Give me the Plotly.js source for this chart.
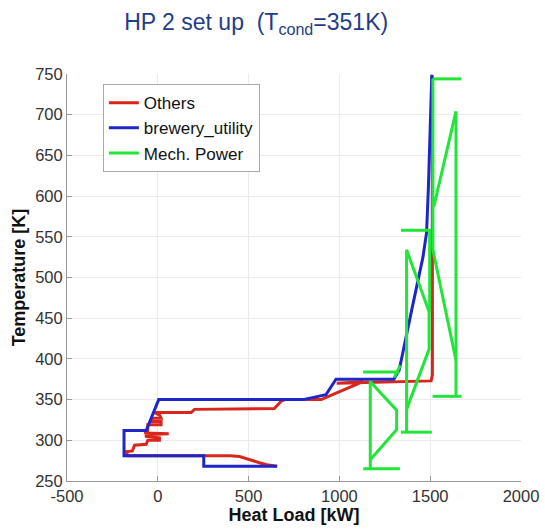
<!DOCTYPE html>
<html>
<head>
<meta charset="utf-8">
<script src="https://cdn.plot.ly/plotly-3.0.1.min.js"></script>
<style>html,body{margin:0;padding:0;background:#fff;}#chart{width:545px;height:529px;}</style>
</head>
<body>
<div id="chart"></div>
<script>
// Others (red) composite curve
const othersLoad = [657, 600, 559, 500, 450, 400, 358, -165, -175, -140, -128, -64, -55, 9, 9, -70, -40, 60, -73, -55, -55, 18, 18, -37, -30, 18, 10, -18, 184, 202, 642, 679, 700, 900, 940, 1130, 985, 1505, 1512, 1512];
const othersTemp = [268, 270, 272.5, 277, 280, 281, 281, 281, 286, 287, 294, 295, 300, 300, 303, 305, 307, 308, 309, 312, 319, 319, 323, 323, 327, 327, 331, 334, 334, 338, 339, 348, 350, 350, 354, 372, 370, 373, 380, 748];

// brewery_utility (blue) composite curve
const breweryLoad = [657, 253, 253, -186, -186, -64, 5, 800, 926, 981, 1300, 1329, 1400, 1460, 1480, 1490, 1509];
const breweryTemp = [268, 268, 281, 281, 312, 312, 350, 350, 356, 375, 375, 386, 462, 525, 555, 610, 749];

// Mech. Power (green) segments, null separates pieces
const mechLoad = [1131, 1333, null, 1170, 1170, null, 1170, 1315, 1315, 1170, null, 1131, 1330, null, 1302, 1335, null,
                  1339, 1509, null, 1370, 1370, null, 1370, 1494, 1494, 1370, null, 1339, 1504, null, 1497, 1497, null,
                  1513, 1672, null, 1642, 1642, null, 1642, 1520, null, 1513, 1672, null, 1515, 1515, null, 1515, 1642];
const mechTemp = [265, 265, null, 265, 373, null, 276, 313, 337, 372, null, 384, 384, null, 377, 392, null,
                  310, 310, null, 310, 534, null, 534, 458, 412, 338, null, 558, 558, null, 558, 458, null,
                  354, 354, null, 354, 704, null, 704, 587, null, 744, 744, null, 744, 534, null, 534, 398];

const xTicks = [-500, 0, 500, 1000, 1500, 2000];
const yTicks = [250, 300, 350, 400, 450, 500, 550, 600, 650, 700, 750];

const font = 'Liberation Sans, Arial, Helvetica, sans-serif';

const traces = [
  {x: othersLoad, y: othersTemp, name: 'Others', mode: 'lines', line: {color: '#d8261c', width: 3}},
  {x: breweryLoad, y: breweryTemp, name: 'brewery_utility', mode: 'lines', line: {color: '#1e26c8', width: 3}},
  {x: mechLoad, y: mechTemp, name: 'Mech. Power', mode: 'lines', connectgaps: false, line: {color: '#22e53a', width: 3}}
];

const layout = {
  width: 545, height: 529,
  margin: {l: 67, r: 24, t: 74, b: 48},
  paper_bgcolor: '#fff', plot_bgcolor: '#fff',
  font: {family: font, size: 16, color: '#333'},
  title: {text: 'HP 2 set up  (T<sub>cond</sub>=351K)', font: {family: font, size: 23, color: '#1f3d88'},
          xref: 'container', x: 0.47, xanchor: 'center', yref: 'container', y: 0.958, yanchor: 'middle'},
  xaxis: {range: [-500, 2000], tickvals: xTicks, ticktext: xTicks.map(String), showgrid: true, gridcolor: '#ebebeb',
          zeroline: false, showline: true, linecolor: '#999', ticks: 'inside', ticklen: 5, tickcolor: '#999',
          tickfont: {family: font, size: 16.5, color: '#333'},
          title: {text: '<b>Heat Load [kW]</b>', font: {family: font, size: 18, color: '#111'}, standoff: 4}},
  yaxis: {range: [250, 750], tickvals: yTicks, ticktext: yTicks.map(String), showgrid: true, gridcolor: '#ebebeb',
          zeroline: false, showline: true, linecolor: '#999', ticks: 'inside', ticklen: 5, tickcolor: '#999',
          tickfont: {family: font, size: 16.5, color: '#333'},
          title: {text: '<b>Temperature [K]</b>', font: {family: font, size: 18, color: '#111'}, standoff: 4}},
  showlegend: true,
  legend: {x: 0.079, y: 0.975, xanchor: 'left', yanchor: 'top', bgcolor: '#fff', bordercolor: '#aaa', borderwidth: 1,
           font: {family: font, size: 17, color: '#111'}}
};

Plotly.newPlot('chart', traces, layout, {displayModeBar: false, staticPlot: true});
</script>
</body>
</html>
